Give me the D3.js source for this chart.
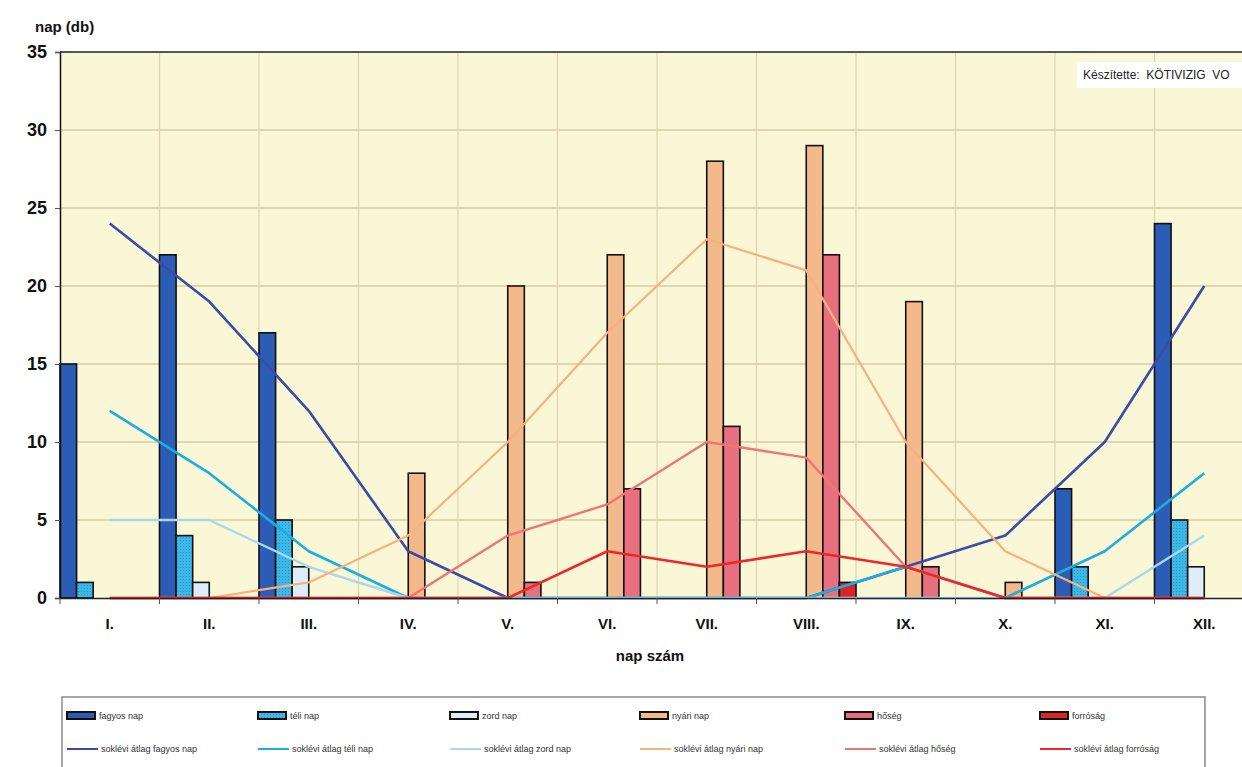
<!DOCTYPE html>
<html>
<head>
<meta charset="utf-8">
<script src="https://cdn.jsdelivr.net/npm/d3@7"></script>
<style>
  body { margin: 0; background: #fff; }
  svg { display: block; font-family: "Liberation Sans", Arial, sans-serif; }
</style>
</head>
<body>
<svg width="1242" height="767"></svg>
<script>
// months
const months = ["I.", "II.", "III.", "IV.", "V.", "VI.", "VII.", "VIII.", "IX.", "X.", "XI.", "XII."];

// bars (this year)
const fagyos   = [15, 22, 17, 0, 0, 0, 0, 0, 0, 0, 7, 24];
const teli     = [1, 4, 5, 0, 0, 0, 0, 0, 0, 0, 2, 5];
const zord     = [0, 1, 2, 0, 0, 0, 0, 0, 0, 0, 0, 2];
const nyari    = [0, 0, 0, 8, 20, 22, 28, 29, 19, 1, 0, 0];
const hoseg    = [0, 0, 0, 0, 1, 7, 11, 22, 2, 0, 0, 0];
const forrosag = [0, 0, 0, 0, 0, 0, 0, 1, 0, 0, 0, 0];

// lines (long-term average)
const atlFagyos   = [24, 19, 12, 3, 0, 0, 0, 0, 2, 4, 10, 20];
const atlTeli     = [12, 8, 3, 0, 0, 0, 0, 0, 2, 0, 3, 8];
const atlZord     = [5, 5, 2, 0, 0, 0, 0, 0, 0, 0, 0, 4];
const atlNyari    = [0, 0, 1, 4, 10, 17, 23, 21, 10, 3, 0, 0];
const atlHoseg    = [0, 0, 0, 0, 4, 6, 10, 9, 2, 0, 0, 0];
const atlForrosag = [0, 0, 0, 0, 0, 3, 2, 3, 2, 0, 0, 0];

const yTicks = [0, 5, 10, 15, 20, 25, 30, 35];

const barSeries = [
  { name: "fagyos nap", values: fagyos,   fill: "#2b5db6" },
  { name: "téli nap",   values: teli,     fill: "url(#dots)" },
  { name: "zord nap",   values: zord,     fill: "#dcedf7" },
  { name: "nyári nap",  values: nyari,    fill: "#f4b98a" },
  { name: "hőség",      values: hoseg,    fill: "#e8707e" },
  { name: "forróság",   values: forrosag, fill: "#dd2424" }
];
const lineSeries = [
  { name: "soklévi átlag fagyos nap", values: atlFagyos,   color: "#3a4ca8", w: 2.6 },
  { name: "soklévi átlag téli nap",   values: atlTeli,     color: "#1aaee2", w: 2.6 },
  { name: "soklévi átlag zord nap",   values: atlZord,     color: "#a8d8ea", w: 2.4 },
  { name: "soklévi átlag nyári nap",  values: atlNyari,    color: "#f6b27e", w: 2.2 },
  { name: "soklévi átlag hőség",      values: atlHoseg,    color: "#f07476", w: 2.4 },
  { name: "soklévi átlag forróság",   values: atlForrosag, color: "#ec2828", w: 2.6 }
];

const svg = d3.select("svg");
const plotL = 60, plotT = 52, plotB = 598, plotR = 1254;

// dotted pattern for the téli bars
const defs = svg.append("defs");
const pat = defs.append("pattern").attr("id", "dots")
  .attr("width", 3).attr("height", 3).attr("patternUnits", "userSpaceOnUse");
pat.append("rect").attr("width", 3).attr("height", 3).attr("fill", "#3cb8e8");
pat.append("rect").attr("width", 1).attr("height", 1).attr("fill", "#2a96c8");

const x = d3.scaleBand().domain(months).range([plotL, plotR]).padding(0);
const inner = d3.scaleBand().domain(barSeries.map(s => s.name)).range([0, x.bandwidth()]).padding(0);
const y = d3.scaleLinear().domain([0, 35]).range([plotB, plotT]);

// plot background
svg.append("rect").attr("x", plotL).attr("y", plotT)
  .attr("width", plotR - plotL).attr("height", plotB - plotT)
  .attr("fill", "#faf7d6");

// grid
svg.append("g").selectAll("line").data(yTicks.slice(1, -1)).join("line")
  .attr("x1", plotL).attr("x2", plotR)
  .attr("y1", d => y(d)).attr("y2", d => y(d))
  .attr("stroke", "#d6cda6").attr("stroke-width", 1.3);
svg.append("g").selectAll("line").data(months.slice(1)).join("line")
  .attr("x1", d => x(d)).attr("x2", d => x(d))
  .attr("y1", plotT).attr("y2", plotB)
  .attr("stroke", "#ddd5b0").attr("stroke-width", 1.2);

// top border
svg.append("line").attr("x1", plotL).attr("x2", plotR).attr("y1", plotT).attr("y2", plotT)
  .attr("stroke", "#555").attr("stroke-width", 2);

// bars
barSeries.forEach(s => {
  svg.append("g").selectAll("rect").data(s.values.map((v, i) => ({ m: months[i], v })).filter(d => d.v > 0))
    .join("rect")
    .attr("x", d => x(d.m) + inner(s.name))
    .attr("y", d => y(d.v))
    .attr("width", inner.bandwidth())
    .attr("height", d => plotB - y(d.v))
    .attr("fill", s.fill)
    .attr("stroke", "#111").attr("stroke-width", 1.6);
});

// lines
const line = d3.line().x((d, i) => x(months[i]) + x.bandwidth() / 2).y(d => y(d));
lineSeries.forEach(s => {
  svg.append("path").datum(s.values).attr("d", line)
    .attr("fill", "none").attr("stroke", s.color)
    .attr("stroke-width", s.w).attr("stroke-linejoin", "round");
});

// axes
const yAxis = svg.append("g").attr("transform", `translate(${plotL},0)`)
  .call(d3.axisLeft(y).tickValues(yTicks).tickSize(5).tickPadding(8));
yAxis.select(".domain").attr("stroke", "#111").attr("stroke-width", 1.5);
yAxis.selectAll(".tick line").attr("stroke", "#555");
yAxis.selectAll("text").attr("font-size", 18).attr("font-weight", "bold")
  .attr("fill", "#111").style("font-family", "Liberation Sans, Arial, sans-serif");

const xAxis = svg.append("g").attr("transform", `translate(0,${plotB})`)
  .call(d3.axisBottom(x).tickSize(0).tickPadding(20));
xAxis.select(".domain").attr("stroke", "#222").attr("stroke-width", 1.5);
xAxis.selectAll("text").attr("font-size", 15).attr("font-weight", "bold")
  .attr("fill", "#111").style("font-family", "Liberation Sans, Arial, sans-serif");
svg.append("g").selectAll("line").data(months).join("line")
  .attr("x1", d => x(d)).attr("x2", d => x(d))
  .attr("y1", plotB).attr("y2", plotB + 6)
  .attr("stroke", "#555").attr("stroke-width", 1);

// titles
svg.append("text").attr("x", 35).attr("y", 32).text("nap (db)")
  .attr("font-size", 15).attr("font-weight", "bold").attr("fill", "#111");
svg.append("text").attr("x", 650).attr("y", 661).attr("text-anchor", "middle").text("nap szám")
  .attr("font-size", 15).attr("font-weight", "bold").attr("fill", "#111");

// author box
svg.append("rect").attr("x", 1077).attr("y", 62).attr("width", 170).attr("height", 26).attr("fill", "#fff");
svg.append("text").attr("x", 1083).attr("y", 79).text("Készítette:  KÖTIVIZIG  VO")
  .attr("font-size", 12).attr("fill", "#222").attr("xml:space", "preserve");

// legend
const legX = [67, 258, 450, 640, 845, 1040];
svg.append("rect").attr("x", 62).attr("y", 697).attr("width", 1143).attr("height", 110)
  .attr("fill", "#fff").attr("stroke", "#8a8a8a").attr("stroke-width", 1.5);
barSeries.forEach((s, i) => {
  svg.append("rect").attr("x", legX[i]).attr("y", 712).attr("width", 28).attr("height", 7)
    .attr("fill", s.fill).attr("stroke", "#111").attr("stroke-width", 2);
  svg.append("text").attr("x", legX[i] + 32).attr("y", 719).text(s.name)
    .attr("font-size", 9).attr("fill", "#333");
});
lineSeries.forEach((s, i) => {
  svg.append("line").attr("x1", legX[i]).attr("x2", legX[i] + 31).attr("y1", 749).attr("y2", 749)
    .attr("stroke", s.color).attr("stroke-width", 2);
  svg.append("text").attr("x", legX[i] + 34).attr("y", 752).text(s.name)
    .attr("font-size", 9).attr("fill", "#333");
});
</script>
</body>
</html>
